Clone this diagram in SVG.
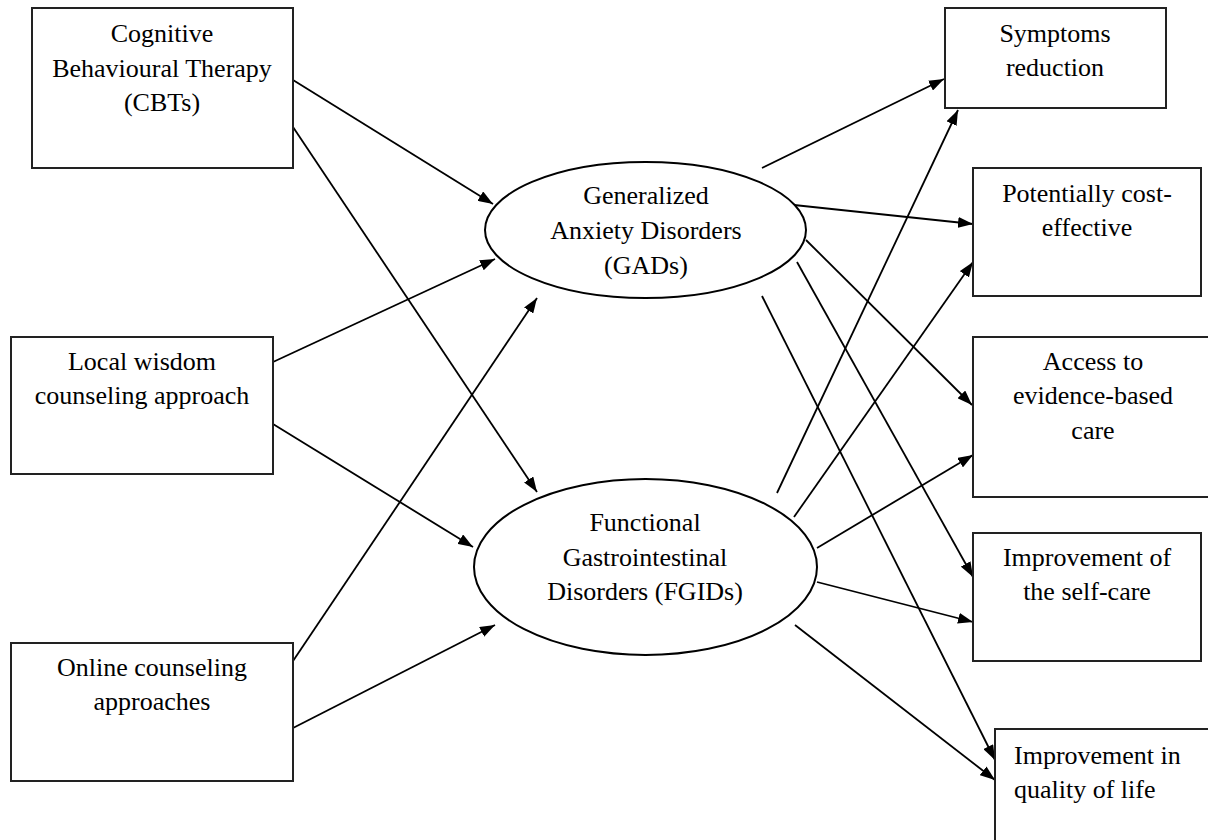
<svg xmlns="http://www.w3.org/2000/svg" width="1208" height="840" viewBox="0 0 1208 840">
<defs>
<style>
.box{fill:#fff;stroke:#222;stroke-width:2}
.ell{fill:#fff;stroke:#000;stroke-width:2}
.t{font-family:"Liberation Serif","Times New Roman",serif;font-size:26px;fill:#000;text-anchor:middle}
.ts{font-family:"Liberation Serif","Times New Roman",serif;font-size:26px;fill:#000;text-anchor:start}
.c{stroke:#000;stroke-width:1.8;fill:none;marker-end:url(#ah)}
</style>
<marker id="ah" viewBox="0 0 15 11" refX="15" refY="5.5" markerWidth="15" markerHeight="11" markerUnits="userSpaceOnUse" orient="auto">
<path d="M0,0 L15,5.5 L0,11 z" fill="#000"/>
</marker>
</defs>
<rect width="1208" height="840" fill="#fff"/>
<g id="connectors">
<line class="c" x1="293" y1="80" x2="493" y2="204"/>
<line class="c" x1="293" y1="127" x2="537" y2="492"/>
<line class="c" x1="273" y1="362" x2="495" y2="259"/>
<line class="c" x1="273" y1="424" x2="473" y2="547"/>
<line class="c" x1="293" y1="661" x2="537" y2="298"/>
<line class="c" x1="293" y1="728" x2="495" y2="625"/>
<line class="c" x1="762" y1="168" x2="944" y2="79"/>
<line class="c" x1="794" y1="205" x2="973" y2="224"/>
<line class="c" x1="806" y1="240" x2="972" y2="405"/>
<line class="c" x1="797" y1="262" x2="973" y2="577"/>
<line class="c" x1="762" y1="296" x2="995" y2="760"/>
<line class="c" x1="777" y1="493" x2="958" y2="110"/>
<line class="c" x1="794" y1="517" x2="973" y2="262"/>
<line class="c" x1="817" y1="548" x2="973" y2="455"/>
<line class="c" x1="817" y1="582" x2="973" y2="622"/>
<line class="c" x1="795" y1="625" x2="995" y2="780"/>
</g>
<g id="cbt">
<rect class="box" x="32" y="8" width="261" height="160"/>
<text class="t" x="162" y="42">Cognitive</text>
<text class="t" x="162" y="77">Behavioural Therapy</text>
<text class="t" x="162" y="111">(CBTs)</text>
</g>
<g id="local">
<rect class="box" x="11" y="337" width="262" height="137"/>
<text class="t" x="142" y="370">Local wisdom</text>
<text class="t" x="142" y="404">counseling approach</text>
</g>
<g id="online">
<rect class="box" x="11" y="643" width="282" height="138"/>
<text class="t" x="152" y="676">Online counseling</text>
<text class="t" x="152" y="710">approaches</text>
</g>
<g id="gad">
<ellipse class="ell" cx="645.5" cy="230" rx="160.5" ry="68"/>
<text class="t" x="646" y="204">Generalized</text>
<text class="t" x="646" y="239">Anxiety Disorders</text>
<text class="t" x="646" y="274">(GADs)</text>
</g>
<g id="fgid">
<ellipse class="ell" cx="645.5" cy="567" rx="171.5" ry="88"/>
<text class="t" x="645" y="531">Functional</text>
<text class="t" x="645" y="566">Gastrointestinal</text>
<text class="t" x="645" y="600">Disorders (FGIDs)</text>
</g>
<g id="symptoms">
<rect class="box" x="945" y="8" width="221" height="100"/>
<text class="t" x="1055" y="42">Symptoms</text>
<text class="t" x="1055" y="76">reduction</text>
</g>
<g id="cost">
<rect class="box" x="973" y="168" width="228" height="128"/>
<text class="t" x="1087" y="202">Potentially cost-</text>
<text class="t" x="1087" y="236">effective</text>
</g>
<g id="access">
<rect class="box" x="973" y="337" width="240" height="160"/>
<text class="t" x="1093" y="370">Access to</text>
<text class="t" x="1093" y="404">evidence-based</text>
<text class="t" x="1093" y="439">care</text>
</g>
<g id="selfcare">
<rect class="box" x="973" y="533" width="228" height="128"/>
<text class="t" x="1087" y="566">Improvement of</text>
<text class="t" x="1087" y="600">the self-care</text>
</g>
<g id="quality">
<rect class="box" x="995" y="729" width="220" height="120"/>
<text class="ts" x="1014" y="764">Improvement in</text>
<text class="ts" x="1014" y="798">quality of life</text>
</g>
</svg>
